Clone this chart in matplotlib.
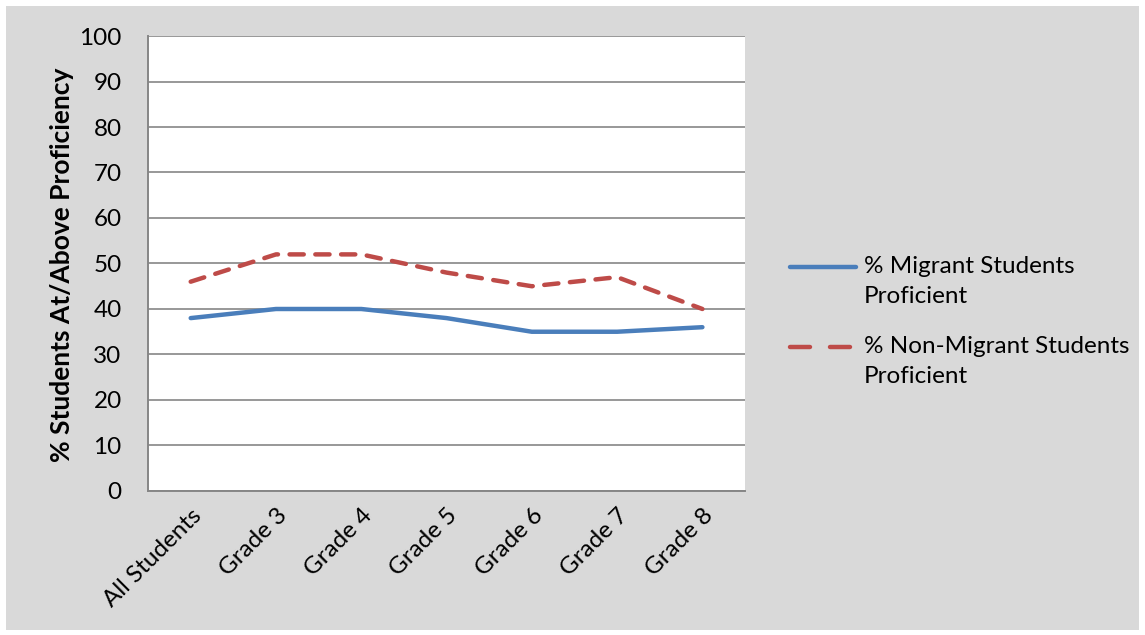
import matplotlib.pyplot as plt
from matplotlib.lines import Line2D
from matplotlib.patches import Rectangle

plt.rcParams['font.family'] = ['Lato', 'DejaVu Sans']

# categories and proficiency rates (%)
categories = ['All Students', 'Grade 3', 'Grade 4', 'Grade 5', 'Grade 6', 'Grade 7', 'Grade 8']
migrant = [38, 40, 40, 38, 35, 35, 36]
non_migrant = [46, 52, 52, 48, 45, 47, 40]
series_names = ['% Migrant Students\nProficient', '% Non-Migrant Students\nProficient']

blue = '#4a7ebb'
red = '#be4b48'
grid_col = '#868686'

fig = plt.figure(figsize=(11.45, 6.35), dpi=100)
fig.patch.set_facecolor('white')
# gray chart area with thin white margin
fig.add_artist(Rectangle((6 / 1145, 5 / 635), 1133 / 1145, 624 / 635,
                         transform=fig.transFigure, facecolor='#d9d9d9',
                         edgecolor='none', zorder=0))

ax = fig.add_axes([0.1293, 0.2268, 0.5214, 0.7165])
ax.set_facecolor('white')

x = range(len(categories))
ax.plot(x, migrant, color=blue, lw=3.2, solid_capstyle='round', solid_joinstyle='round', zorder=3)
ax.plot(x, non_migrant, color=red, lw=3.2, dashes=(3.2, 2.6), dash_capstyle='round',
        dash_joinstyle='round', zorder=3)

ax.set_xlim(-0.5, len(categories) - 0.5)
ax.set_ylim(0, 100)
ax.set_yticks(range(0, 101, 10))
ax.yaxis.grid(True, color=grid_col, lw=1.2)
ax.set_axisbelow(True)
ax.set_xticks(list(x))
ax.set_xticklabels(categories, rotation=45, ha='right', va='top', rotation_mode='anchor')
ax.tick_params(axis='both', length=0, labelsize=17.5, colors='black')
ax.tick_params(axis='y', pad=19)
ax.tick_params(axis='x', pad=10)

for s in ['top', 'right']:
    ax.spines[s].set_visible(False)
for s in ['left', 'bottom']:
    ax.spines[s].set_color(grid_col)
    ax.spines[s].set_linewidth(1.4)

fig.text(62 / 1145, 1 - 265 / 635, '% Students At/Above Proficiency', rotation=90,
         ha='center', va='center', fontsize=19, fontweight='bold')

# legend drawn on the figure
legend_rows = [(267, blue, '-'), (347, red, '--')]
for (ypix, col, style), name in zip(legend_rows, series_names):
    yf = 1 - ypix / 635
    ln = Line2D([790 / 1145, 856 / 1145], [yf, yf], transform=fig.transFigure,
                color=col, lw=3.2, solid_capstyle='round', dash_capstyle='round')
    if style == '--':
        ln.set_dashes((4.5, 4.5))
    fig.add_artist(ln)
    fig.text(864 / 1145, yf + 11 / 635, name, ha='left', va='top', fontsize=17.5,
             linespacing=1.55)

fig.savefig('out.png', dpi=100, facecolor=fig.get_facecolor())
